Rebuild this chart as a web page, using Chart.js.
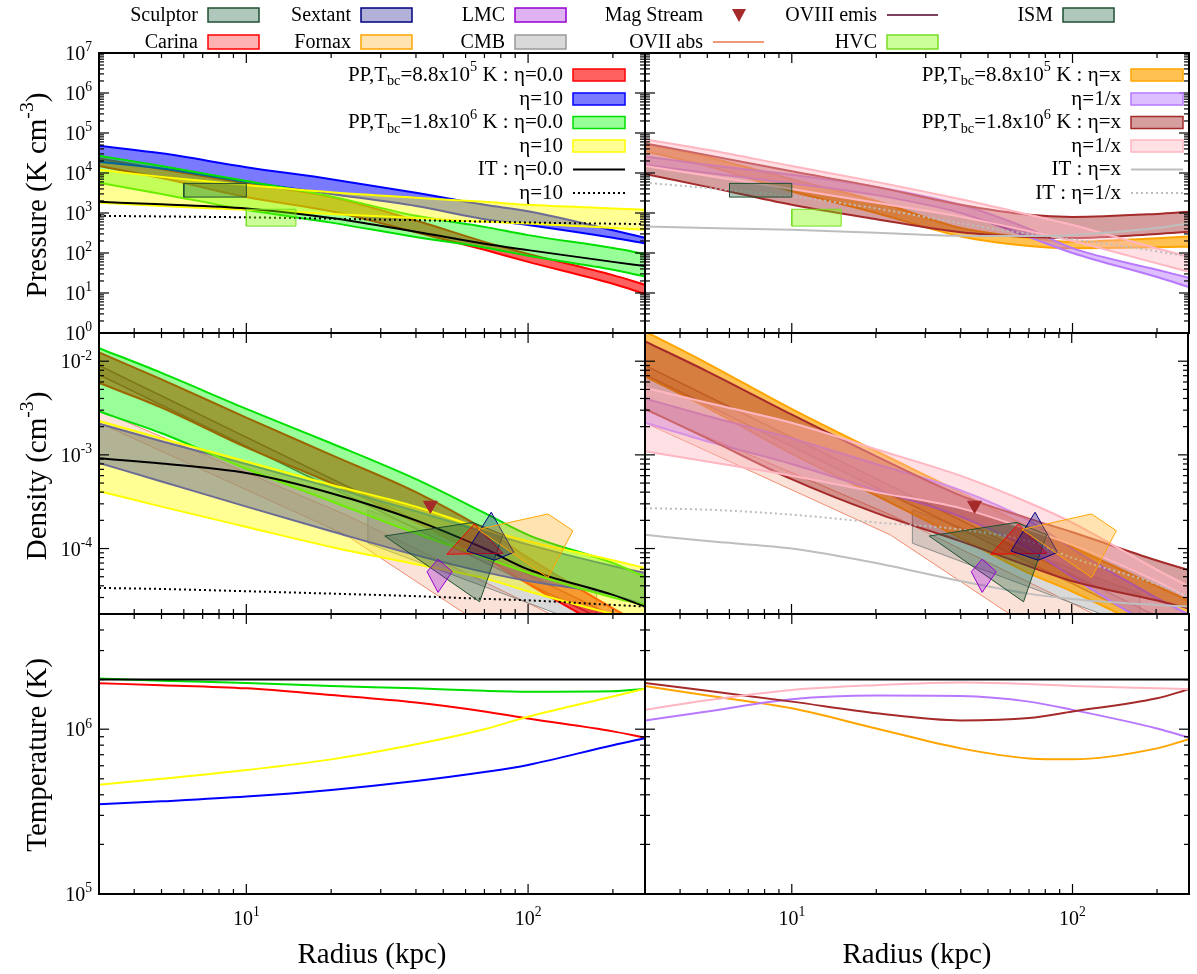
<!DOCTYPE html>
<html>
<head>
<meta charset="utf-8">
<script src="https://cdn.jsdelivr.net/npm/chart.js"></script>
<style>
  body { margin: 0; background: #fff; }
  #wrap { position: relative; width: 1197px; height: 974px; }
  #wrap canvas { position: absolute; left: 0; top: 0; }
</style>
</head>
<body>
<div id="wrap"></div>
<script>
// ===== DATA =====
const radius = [3, 5, 10, 20, 40, 70, 100, 200, 260];   // kpc

// Pressure (K cm^-3), left column
const pRedHi    = [2.3e4, 1.25e4, 5.5e3, 2.5e3, 650, 190, 95, 28, 16];
const pRedLo    = [1.5e4, 7.5e3, 2.5e3, 1.1e3, 330, 120, 60, 17, 9.5];
const pBlueHi   = [4.8e4, 3.1e4, 1.4e4, 7e3, 3.2e3, 1.6e3, 1.1e3, 370, 240];
const pBlueLo   = [1.9e4, 1.3e4, 6e3, 3e3, 1.5e3, 700, 500, 240, 175];
const pGreenHi  = [2.7e4, 1.5e4, 6.3e3, 2.6e3, 850, 450, 280, 133, 95];
const pGreenLo  = [5.7e3, 3e3, 1.2e3, 575, 250, 138, 85, 38, 26];
const pYellowHi = [1.2e4, 8e3, 5e3, 3.3e3, 2.4e3, 1.9e3, 1.6e3, 1.3e3, 1.2e3];
const pYellowLo = [1.8e3, 1.5e3, 1.2e3, 950, 750, 600, 550, 420, 380];
const pIT0      = [1.9e3, 1.65e3, 1.3e3, 750, 340, 170, 118, 60, 47];
const pIT10     = [850, 820, 780, 720, 660, 610, 580, 540, 530];

// Pressure, right column
const pOrangeHi = [5.5e4, 2.5e4, 7e3, 2e3, 420, 240, 190, 235, 257];
const pOrangeLo = [3.5e4, 1.5e4, 3.5e3, 1e3, 260, 150, 132, 140, 144];
const pPurpleHi = [2.6e4, 1.6e4, 9e3, 4.5e3, 1.6e3, 400, 132, 38, 24];
const pPurpleLo = [1.6e4, 1e4, 5.5e3, 2.8e3, 1e3, 250, 100, 25, 14];
const pBrownHi  = [5.5e4, 2.8e4, 1.1e4, 4.5e3, 1.6e3, 900, 800, 950, 1070];
const pBrownLo  = [9.4e3, 4.5e3, 1.6e3, 700, 330, 250, 237, 300, 340];
const pPinkHi   = [7e4, 3.8e4, 1.5e4, 6e3, 2.2e3, 900, 500, 130, 81];
const pPinkLo   = [1.5e4, 8.5e3, 4e3, 1.8e3, 800, 350, 200, 55, 34];
const pITx      = [460, 420, 380, 320, 270, 265, 280, 420, 550];
const pITinv    = [5.7e3, 4.2e3, 2.6e3, 1.3e3, 550, 300, 220, 110, 81];

// Density (cm^-3), left column
const nRedHi    = [1.24e-2, 6.4e-3, 2.5e-3, 1.0e-3, 4e-4, 1.6e-4, 8e-5, 2.3e-5, 1.5e-5];
const nRedLo    = [5.85e-3, 3.2e-3, 1.2e-3, 5e-4, 1.9e-4, 8e-5, 4.2e-5, 1.3e-5, 9e-6];
const nBlueHi   = [2.15e-3, 1.4e-3, 8e-4, 4.5e-4, 2.5e-4, 1.5e-4, 1.1e-4, 6.5e-5, 5.5e-5];
const nBlueLo   = [8.2e-4, 5.2e-4, 2.8e-4, 1.53e-4, 8.5e-5, 5.6e-5, 4.5e-5, 3.2e-5, 2.5e-5];
const nGreenHi  = [1.38e-2, 7.5e-3, 3.1e-3, 1.33e-3, 5.5e-4, 2.4e-4, 1.4e-4, 7e-5, 5e-5];
const nGreenLo  = [2.9e-3, 1.7e-3, 7.1e-4, 3.2e-4, 1.45e-4, 8e-5, 5.5e-5, 3e-5, 2.5e-5];
const nYellowHi = [2.3e-3, 1.5e-3, 8.5e-4, 4.8e-4, 2.8e-4, 1.6e-4, 1.2e-4, 7.5e-5, 6.2e-5];
const nYellowLo = [4.1e-4, 2.8e-4, 1.7e-4, 1.04e-4, 6.8e-5, 4.8e-5, 3.5e-5, 2e-5, 1.7e-5];
const nIT0      = [9.2e-4, 8.1e-4, 6.4e-4, 3.9e-4, 2e-4, 1e-4, 6e-5, 3.2e-5, 2.4e-5];
const nIT10     = [3.8e-5, 3.7e-5, 3.5e-5, 3.3e-5, 3.1e-5, 2.9e-5, 2.8e-5, 2.5e-5, 2.4e-5];

// Density, right column
const nOrangeHi = [2.08e-2, 9.5e-3, 3.1e-3, 1.1e-3, 4e-4, 1.7e-4, 1.05e-4, 4e-5, 2.8e-5];
const nOrangeLo = [6.9e-3, 3.2e-3, 1.03e-3, 3.7e-4, 1.3e-4, 5.5e-5, 3.5e-5, 1.3e-5, 9e-6];
const nPurpleHi = [4e-3, 2.6e-3, 1.5e-3, 8e-4, 4.2e-4, 2e-4, 1e-4, 3e-5, 2e-5];
const nPurpleLo = [2.2e-3, 1.4e-3, 8e-4, 4.2e-4, 2.2e-4, 1e-4, 5e-5, 1.4e-5, 9e-6];
const nBrownHi  = [1.63e-2, 7.8e-3, 2.7e-3, 9.7e-4, 3.7e-4, 2.1e-4, 1.5e-4, 7.5e-5, 5.9e-5];
const nBrownLo  = [3.1e-3, 1.5e-3, 5.5e-4, 2.4e-4, 1.2e-4, 6.5e-5, 4.5e-5, 2.8e-5, 2.3e-5];
const nPinkHi   = [5.2e-3, 3.6e-3, 2.2e-3, 1.15e-3, 6e-4, 3.1e-4, 1.9e-4, 6e-5, 4e-5];
const nPinkLo   = [1.09e-3, 8.5e-4, 6e-4, 4e-4, 2.7e-4, 1.6e-4, 1.1e-4, 4.5e-5, 3e-5];
const nITx      = [1.4e-4, 1.2e-4, 1e-4, 7e-5, 4.5e-5, 3.3e-5, 2.9e-5, 2.5e-5, 2.4e-5];
const nITinv    = [2.7e-4, 2.6e-4, 2.3e-4, 1.9e-4, 1.6e-4, 1.2e-4, 8e-5, 4.2e-5, 3.1e-5];

// Temperature (K)
const tRed    = [1.9e6, 1.85e6, 1.77e6, 1.61e6, 1.45e6, 1.28e6, 1.16e6, 9.7e5, 8.9e5];
const tBlue   = [3.5e5, 3.65e5, 3.9e5, 4.28e5, 4.85e5, 5.5e5, 6.07e5, 8e5, 8.8e5];
const tGreen  = [2.03e6, 1.97e6, 1.91e6, 1.83e6, 1.77e6, 1.71e6, 1.69e6, 1.7e6, 1.76e6];
const tYellow = [4.6e5, 5e5, 5.65e5, 6.56e5, 8.1e5, 1.0e6, 1.19e6, 1.58e6, 1.76e6];
const tOrange = [1.83e6, 1.6e6, 1.34e6, 1.01e6, 7.65e5, 6.65e5, 6.56e5, 7.65e5, 8.7e5];
const tPurple = [1.13e6, 1.28e6, 1.52e6, 1.6e6, 1.59e6, 1.47e6, 1.31e6, 1.01e6, 8.9e5];
const tBrown  = [1.91e6, 1.71e6, 1.47e6, 1.25e6, 1.13e6, 1.17e6, 1.28e6, 1.54e6, 1.75e6];
const tPink   = [1.31e6, 1.5e6, 1.73e6, 1.85e6, 1.92e6, 1.88e6, 1.83e6, 1.77e6, 1.75e6];
const tIT     = [2e6, 2e6, 2e6, 2e6, 2e6, 2e6, 2e6, 2e6, 2e6];

// Observational constraints [radius, value]
const ismBox       = [[6, 2.5e3], [10, 2.5e3], [10, 5.5e3], [6, 5.5e3]];
const hvcBox       = [[10, 470], [15, 470], [15, 1.24e3], [10, 1.24e3]];
const sculptorPoly = [[31, 1.36e-4], [63.7, 1.9e-4], [81.4, 1.4e-4], [67.3, 2.7e-5]];
const carinaPoly   = [[51.5, 8.7e-5], [64.5, 1.83e-4], [81.4, 8.9e-5]];
const sextantPoly  = [[74, 2.44e-4], [60.7, 9.4e-5], [76, 7.5e-5], [89, 9.1e-5]];
const fornaxPoly   = [[66.4, 1.6e-4], [117.7, 2.34e-4], [144.3, 1.55e-4], [117.7, 4.9e-5]];
const lmcPoly      = [[47.9, 7.7e-5], [53.8, 5.66e-5], [47.9, 3.4e-5], [43.8, 5.66e-5]];
const cmbPoly      = [[27, 2.6e-4], [175, 3.3e-5], [175, 1.4e-5], [27, 1.14e-4]];
const magStream    = [[45, 2.9e-4]];
const oviiUpper    = [[3, 3.0e-3], [22.5, 2.3e-4], [120, 2e-5], [260, 6e-6]];
const oviiLower    = [[3, 2.2e-3], [22.5, 1.4e-4], [60, 2e-5], [260, 1.5e-6]];
const oviiiUpper   = [[3, 9e-3], [260, 1.3e-5]];
const oviiiLower   = [[3, 7.2e-3], [260, 1.05e-5]];

// Axis ticks
const xTicks = [10, 100];
const pressureTicks = [1, 10, 100, 1e3, 1e4, 1e5, 1e6, 1e7];
const densityTicks = [1e-2, 1e-3, 1e-4];
const tempTicks = [1e5, 1e6];

// ===== LAYOUT =====
const W = 1197, H = 974;
const FONT = "'Liberation Serif', 'Times New Roman', serif";
const PANEL = {
  pL: [99, 53, 645, 333], pR: [645, 53, 1189, 333],
  dL: [99, 333, 645, 614], dR: [645, 333, 1189, 614],
  tL: [99, 614, 645, 894], tR: [645, 614, 1189, 894]
};

const C = {
  red:    { line: '#ff0000', fill: 'rgba(255,0,0,0.62)' },
  blue:   { line: '#0000ff', fill: 'rgba(0,0,255,0.52)' },
  green:  { line: '#00e000', fill: 'rgba(0,255,0,0.4)' },
  yellow: { line: '#ffff00', fill: 'rgba(255,255,0,0.42)' },
  orange: { line: '#ffa500', fill: 'rgba(255,165,0,0.68)' },
  purple: { line: '#b878ff', fill: 'rgba(180,110,255,0.45)' },
  brown:  { line: '#a52a2a', fill: 'rgba(165,42,42,0.45)' },
  pink:   { line: '#ffb6c1', fill: 'rgba(255,182,193,0.42)' }
};

// ===== HELPERS =====
const pts = ys => radius.map((x, i) => ({ x, y: ys[i] }));
const pairs = list => list.map(([x, y]) => ({ x, y }));

function band(hi, lo, c) {
  return [
    { data: pts(hi), borderColor: c.line, borderWidth: 2, backgroundColor: c.fill, fill: '+1', cubicInterpolationMode: 'monotone' },
    { data: pts(lo), borderColor: c.line, borderWidth: 2, fill: false, cubicInterpolationMode: 'monotone' }
  ];
}
function curve(ys, color, dash, width) {
  return { data: pts(ys), borderColor: color, borderWidth: width || 2, borderDash: dash || [], fill: false, cubicInterpolationMode: 'monotone' };
}
function poly(list, line, fill, width) {
  const p = pairs(list); p.push(p[0]);
  return { data: p, borderColor: line, borderWidth: width || 1, backgroundColor: fill, fill: 'shape', tension: 0 };
}
function obsUnder() {
  return [
    poly(oviiUpper.concat(oviiLower.slice().reverse()), '#f08c70', 'rgba(240,150,120,0.28)'),
    poly(cmbPoly, '#8c8c8c', 'rgba(128,128,128,0.3)'),
    poly(oviiiUpper.concat(oviiiLower.slice().reverse()), '#804060', 'rgba(128,64,96,0.3)', 1.5)
  ];
}
function obsOver() {
  return [
    poly(sculptorPoly, '#1f4f30', 'rgba(29,98,63,0.35)'),
    poly(carinaPoly, '#ff0000', 'rgba(255,0,0,0.3)'),
    poly(sextantPoly, '#000080', 'rgba(0,0,128,0.3)'),
    poly(fornaxPoly, '#ffa500', 'rgba(255,165,0,0.3)'),
    poly(lmcPoly, '#9400d3', 'rgba(148,0,211,0.3)'),
    { data: pairs(magStream), showLine: false, pointStyle: 'triangle', rotation: 180, pointRadius: 8,
      pointBackgroundColor: '#a52a2a', pointBorderColor: '#a52a2a' }
  ];
}

function logTicks(min, max) {
  const out = [];
  for (let k = Math.floor(Math.log10(min)); k <= Math.ceil(Math.log10(max)); k++) {
    for (let m = 1; m <= 9; m++) {
      const v = m * Math.pow(10, k);
      if (v >= min * 0.999999 && v <= max * 1.000001) out.push({ v, major: m === 1 });
    }
  }
  return out;
}
function seg(ctx, x1, y1, x2, y2) { ctx.beginPath(); ctx.moveTo(x1, y1); ctx.lineTo(x2, y2); ctx.stroke(); }

// parts: strings or [text, 1 = superscript / -1 = subscript]
function drawRich(ctx, parts, x, y, align, size) {
  const list = parts.map(p => Array.isArray(p) ? p : [p, 0]);
  const small = size * 0.68;
  let w = 0;
  list.forEach(([t, m]) => { ctx.font = (m ? small : size) + 'px ' + FONT; w += ctx.measureText(t).width; });
  let cx = align === 'right' ? x - w : align === 'center' ? x - w / 2 : x;
  ctx.fillStyle = '#000';
  ctx.textBaseline = 'middle';
  ctx.textAlign = 'left';
  list.forEach(([t, m]) => {
    ctx.font = (m ? small : size) + 'px ' + FONT;
    const dy = m === 1 ? -size * 0.36 : m === -1 ? size * 0.3 : 0;
    ctx.fillText(t, cx, y + dy);
    cx += ctx.measureText(t).width;
  });
}
const pow10Label = v => ['10', [String(Math.round(Math.log10(v))), 1]];

function yLabels(chart, ticks) {
  const ctx = chart.ctx, ys = chart.scales.y, a = chart.chartArea;
  ticks.forEach(v => drawRich(ctx, pow10Label(v), a.left - 7, ys.getPixelForValue(v) + 2, 'right', 20));
}
function xLabels(chart, ticks) {
  const ctx = chart.ctx, xs = chart.scales.x, a = chart.chartArea;
  ticks.forEach(v => drawRich(ctx, pow10Label(v), xs.getPixelForValue(v), a.bottom + 26, 'center', 20));
  drawRich(ctx, ['Radius (kpc)'], (a.left + a.right) / 2, 955, 'center', 29);
}
function yTitle(chart, parts, cy) {
  const ctx = chart.ctx;
  ctx.save(); ctx.translate(38, cy); ctx.rotate(-Math.PI / 2);
  drawRich(ctx, parts, 0, 0, 'center', 29);
  ctx.restore();
}

function swatchBox(ctx, x, y, w, h, fill, line) {
  ctx.fillStyle = fill; ctx.fillRect(x, y, w, h);
  ctx.strokeStyle = line; ctx.lineWidth = 1.5; ctx.setLineDash([]); ctx.strokeRect(x, y, w, h);
}
function swatchLine(ctx, x, y, w, color, dash, width) {
  ctx.save(); ctx.strokeStyle = color; ctx.lineWidth = width || 2; ctx.setLineDash(dash || []);
  seg(ctx, x, y, x + w, y); ctx.restore();
}

// in-panel key (gnuplot style: text right-aligned, sample on the right)
function panelKey(chart, textRight, rows) {
  const ctx = chart.ctx;
  const ys = [75, 99, 122.5, 146, 169.5, 193];
  rows.forEach((r, i) => {
    const y = ys[i];
    drawRich(ctx, r.text, textRight, y, 'right', 21);
    if (r.box) swatchBox(ctx, textRight + 10, y - 6, 52, 12, r.box.fill, r.box.line);
    else swatchLine(ctx, textRight + 10, y, 52, r.line, r.dash);
  });
}
const ppLabel = (t, e, eta) => ['PP,T', ['bc', -1], '=' + t + 'x10', [e, 1], ' K : η=' + eta];

function topKey(ctx) {
  const cols = [198, 351, 505, 703, 877, 1053];
  const rows = [15, 42];
  const items = [
    { c: 0, r: 0, t: 'Sculptor', box: ['#b0c8bc', '#1f4f30'] },
    { c: 0, r: 1, t: 'Carina', box: ['#ffb2b2', '#ff0000'] },
    { c: 1, r: 0, t: 'Sextant', box: ['#b2b2d9', '#000080'] },
    { c: 1, r: 1, t: 'Fornax', box: ['#ffe4b2', '#ffa500'] },
    { c: 2, r: 0, t: 'LMC', box: ['#dfb2f2', '#9400d3'] },
    { c: 2, r: 1, t: 'CMB', box: ['#d9d9d9', '#999999'] },
    { c: 3, r: 0, t: 'Mag Stream', tri: '#a52a2a' },
    { c: 3, r: 1, t: 'OVII abs', line: '#f09878' },
    { c: 4, r: 0, t: 'OVIII emis', line: '#804060' },
    { c: 4, r: 1, t: 'HVC', box: ['#ccff99', '#77dd22'] },
    { c: 5, r: 0, t: 'ISM', box: ['#b0c8bc', '#1f4f30'] }
  ];
  items.forEach(it => {
    const x = cols[it.c], y = rows[it.r];
    drawRich(ctx, [it.t], x, y + 1, 'right', 20);
    if (it.box) swatchBox(ctx, x + 10, y - 7, 51, 14, it.box[0], it.box[1]);
    else if (it.line) swatchLine(ctx, x + 10, y, 51, it.line);
    else {
      ctx.fillStyle = it.tri; ctx.beginPath();
      ctx.moveTo(x + 29, y - 6); ctx.lineTo(x + 43, y - 6); ctx.lineTo(x + 36, y + 7); ctx.closePath(); ctx.fill();
    }
  });
}

function makeFrame(decor) {
  return {
    id: 'frame',
    afterDraw(chart) {
      const ctx = chart.ctx, a = chart.chartArea, xs = chart.scales.x, ys = chart.scales.y;
      ctx.save();
      ctx.strokeStyle = '#000'; ctx.lineWidth = 1.2; ctx.setLineDash([]);
      logTicks(xs.min, xs.max).forEach(t => {
        const px = xs.getPixelForValue(t.v), len = t.major ? 10 : 5;
        seg(ctx, px, a.bottom, px, a.bottom - len);
        seg(ctx, px, a.top, px, a.top + len);
      });
      logTicks(ys.min, ys.max).forEach(t => {
        const py = ys.getPixelForValue(t.v), len = t.major ? 10 : 5;
        seg(ctx, a.left, py, a.left + len, py);
        seg(ctx, a.right, py, a.right - len, py);
      });
      ctx.lineWidth = 2;
      ctx.strokeRect(a.left, a.top, a.right - a.left, a.bottom - a.top);
      if (decor) decor(chart);
      ctx.restore();
    }
  };
}

function makeChart(panel, datasets, yMin, yMax, decor) {
  const canvas = document.createElement('canvas');
  canvas.width = W; canvas.height = H;
  document.getElementById('wrap').appendChild(canvas);
  datasets.forEach((d, i) => {
    d.order = datasets.length - i;   // first listed is drawn first (bottom)
    d.clip = 0;
    if (d.pointRadius === undefined) d.pointRadius = 0;
  });
  return new Chart(canvas, {
    type: 'line',
    data: { datasets },
    options: {
      responsive: false, animation: false, devicePixelRatio: 1, events: [],
      layout: { padding: { left: panel[0], top: panel[1], right: W - panel[2], bottom: H - panel[3] } },
      scales: {
        x: { type: 'logarithmic', min: 3, max: 260, display: false },
        y: { type: 'logarithmic', min: yMin, max: yMax, display: false }
      },
      plugins: { legend: { display: false }, tooltip: { enabled: false } }
    },
    plugins: [makeFrame(decor)]
  });
}

// ===== PANELS =====
// Pressure, left
makeChart(PANEL.pL, [
  ...band(pRedHi, pRedLo, C.red),
  ...band(pBlueHi, pBlueLo, C.blue),
  ...band(pGreenHi, pGreenLo, C.green),
  ...band(pYellowHi, pYellowLo, C.yellow),
  curve(pIT0, '#000'),
  curve(pIT10, '#000', [2, 3]),
  poly(ismBox, '#1f4f30', 'rgba(29,98,63,0.35)'),
  poly(hvcBox, '#77dd22', 'rgba(124,252,0,0.4)')
], 1, 1e7, chart => {
  yLabels(chart, pressureTicks);
  yTitle(chart, ['Pressure (K cm', ['-3', 1], ')'], 195);
  panelKey(chart, 563, [
    { text: ppLabel('8.8', '5', '0.0'), box: C.red },
    { text: ['η=10'], box: C.blue },
    { text: ppLabel('1.8', '6', '0.0'), box: C.green },
    { text: ['η=10'], box: C.yellow },
    { text: ['IT : η=0.0'], line: '#000' },
    { text: ['η=10'], line: '#000', dash: [2, 3] }
  ]);
  topKey(chart.ctx);
});

// Pressure, right
makeChart(PANEL.pR, [
  ...band(pOrangeHi, pOrangeLo, C.orange),
  ...band(pPurpleHi, pPurpleLo, C.purple),
  ...band(pBrownHi, pBrownLo, C.brown),
  ...band(pPinkHi, pPinkLo, C.pink),
  curve(pITx, '#bebebe'),
  curve(pITinv, '#bebebe', [2, 3]),
  poly(ismBox, '#1f4f30', 'rgba(29,98,63,0.35)'),
  poly(hvcBox, '#77dd22', 'rgba(124,252,0,0.4)')
], 1, 1e7, chart => {
  panelKey(chart, 1121, [
    { text: ppLabel('8.8', '5', 'x'), box: C.orange },
    { text: ['η=1/x'], box: C.purple },
    { text: ppLabel('1.8', '6', 'x'), box: C.brown },
    { text: ['η=1/x'], box: C.pink },
    { text: ['IT : η=x'], line: '#bebebe' },
    { text: ['IT : η=1/x'], line: '#bebebe', dash: [2, 3] }
  ]);
});

// Density, left
makeChart(PANEL.dL, [
  ...obsUnder(),
  ...band(nRedHi, nRedLo, C.red),
  ...band(nBlueHi, nBlueLo, C.blue),
  ...band(nGreenHi, nGreenLo, C.green),
  ...band(nYellowHi, nYellowLo, C.yellow),
  curve(nIT0, '#000'),
  curve(nIT10, '#000', [2, 3]),
  ...obsOver()
], 2e-5, 2e-2, chart => {
  yLabels(chart, densityTicks);
  yTitle(chart, ['Density (cm', ['-3', 1], ')'], 476);
});

// Density, right
makeChart(PANEL.dR, [
  ...obsUnder(),
  ...band(nOrangeHi, nOrangeLo, C.orange),
  ...band(nPurpleHi, nPurpleLo, C.purple),
  ...band(nBrownHi, nBrownLo, C.brown),
  ...band(nPinkHi, nPinkLo, C.pink),
  curve(nITx, '#bebebe'),
  curve(nITinv, '#bebebe', [2, 3]),
  ...obsOver()
], 2e-5, 2e-2);

// Temperature, left
makeChart(PANEL.tL, [
  curve(tRed, C.red.line),
  curve(tBlue, C.blue.line),
  curve(tGreen, C.green.line),
  curve(tYellow, C.yellow.line),
  curve(tIT, '#000')
], 1e5, 5e6, chart => {
  yLabels(chart, tempTicks);
  yTitle(chart, ['Temperature (K)'], 755);
  xLabels(chart, xTicks);
});

// Temperature, right
makeChart(PANEL.tR, [
  curve(tOrange, C.orange.line),
  curve(tPurple, C.purple.line),
  curve(tBrown, C.brown.line),
  curve(tPink, C.pink.line),
  curve(tIT, '#000')
], 1e5, 5e6, chart => {
  xLabels(chart, xTicks);
});
</script>
</body>
</html>
